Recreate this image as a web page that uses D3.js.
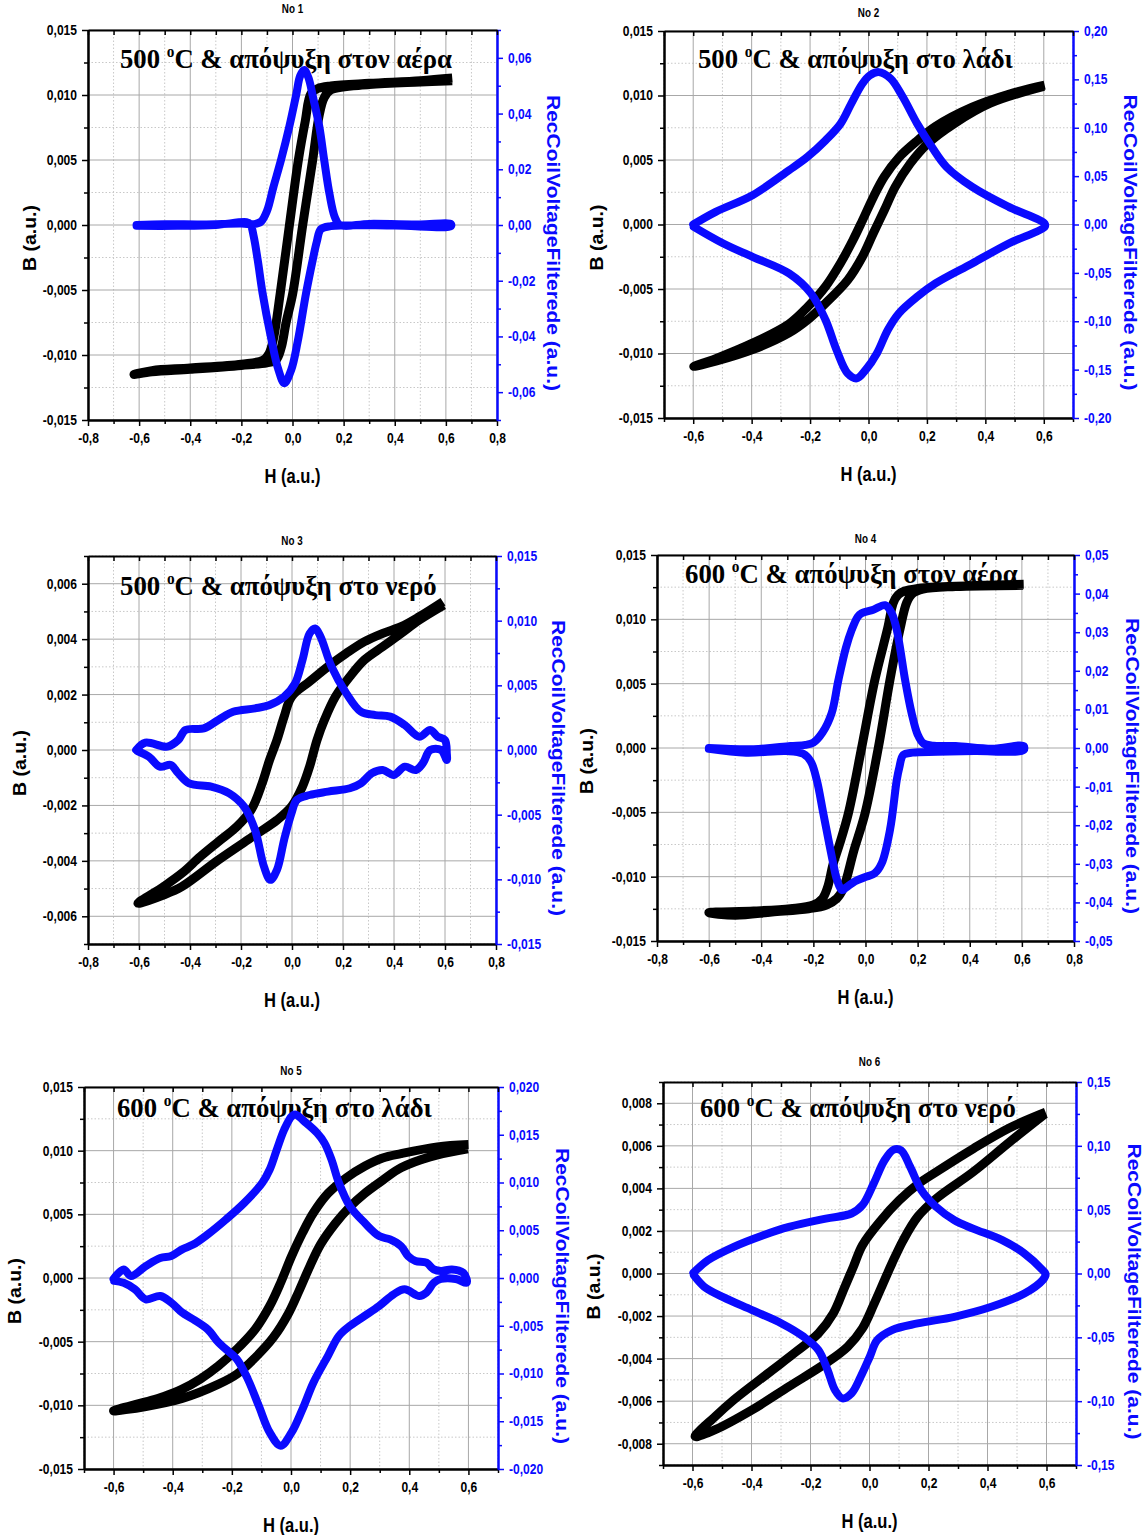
<!DOCTYPE html>
<html>
<head>
<meta charset="utf-8">
<title>Hysteresis loops No 1 - No 6</title>
<script src="https://d3js.org/d3.v7.min.js"></script>
<style>
  body { margin: 0; background: #fff; }
  svg text { font-family: "Liberation Sans", Arial, sans-serif; font-weight: bold; }
</style>
</head>
<body>
<script>
// ---- data: [H, value] ----
const panelTitles = ["No 1", "No 2", "No 3", "No 4", "No 5", "No 6"];
const temps = ["500", "500", "500", "600", "600", "600"];
const quench = ["στον αέρα", "στο λάδι", "στο νερό", "στον αέρα", "στο λάδι", "στο νερό"];

const hDomains = [[-0.8, 0.8], [-0.7, 0.7], [-0.8, 0.8], [-0.8, 0.8], [-0.7, 0.7], [-0.7, 0.7]];
const bDomains = [[-0.015, 0.015], [-0.015, 0.015], [-0.007, 0.007], [-0.015, 0.015], [-0.015, 0.015], [-0.009, 0.009]];
const vDomains = [[-0.07, 0.07], [-0.2, 0.2], [-0.015, 0.015], [-0.05, 0.05], [-0.02, 0.02], [-0.15, 0.15]];
const bSteps = [0.005, 0.005, 0.002, 0.005, 0.005, 0.002];
const vSteps = [0.02, 0.05, 0.005, 0.01, 0.005, 0.05];
const vDecimals = [2, 2, 3, 2, 3, 2];

// black B-H loops (descending branch, then ascending branch)
const bLoop1 = [[0.625,0.0113],[0.5,0.0111],[0.3,0.0109],[0.15,0.0107],[0.099,0.0105],[0.072,0.0101],[0.05,0.0080],[0.023,0.0050],[-0.012,0],[-0.048,-0.00526],[-0.075,-0.0088],[-0.092,-0.0099],[-0.115,-0.0104],[-0.2,-0.0107],[-0.4,-0.0110],[-0.55,-0.0112],[-0.62,-0.0115],
  [-0.55,-0.0113],[-0.4,-0.0111],[-0.2,-0.0108],[-0.1,-0.0106],[-0.065,-0.0104],[-0.045,-0.0095],[-0.025,-0.0075],[0.001,-0.00526],[0.04,0],[0.079,0.0050],[0.105,0.0085],[0.124,0.0098],[0.15,0.0104],[0.3,0.0108],[0.5,0.0110],[0.625,0.0111]];
const bLoop2 = [[0.603,0.0108],[0.48,0.0101],[0.355,0.0091],[0.229,0.0076],[0.167,0.0065],[0.104,0.0052],[0.054,0.0037],[0.016,0.0021],[-0.021,0.0003],[-0.053,-0.0012],[-0.096,-0.003],[-0.147,-0.0048],[-0.209,-0.0064],[-0.272,-0.0077],[-0.397,-0.0092],[-0.523,-0.0104],[-0.598,-0.0110],
  [-0.523,-0.0106],[-0.397,-0.0097],[-0.272,-0.0084],[-0.209,-0.0074],[-0.147,-0.0061],[-0.071,-0.0043],[-0.021,-0.0025],[0.016,-0.0007],[0.054,0.0011],[0.091,0.0029],[0.142,0.0047],[0.204,0.0063],[0.292,0.0078],[0.417,0.0094],[0.6,0.0107]];
const bLoop3 = [[0.592,0.00535],[0.499,0.00481],[0.428,0.00445],[0.356,0.00421],[0.284,0.00391],[0.213,0.00349],[0.141,0.00301],[0.069,0.00247],[-0.002,0.00192],[-0.031,0.0012],[-0.059,0.00036],[-0.088,-0.00036],[-0.117,-0.0012],[-0.16,-0.00216],[-0.217,-0.00277],[-0.289,-0.00331],[-0.36,-0.00385],[-0.432,-0.00445],[-0.504,-0.00493],[-0.604,-0.00553],
  [-0.504,-0.00523],[-0.432,-0.00493],[-0.289,-0.00397],[-0.145,-0.00307],[-0.059,-0.00253],[-0.002,-0.00204],[0.041,-0.00132],[0.069,-0.0006],[0.098,0.00036],[0.127,0.00108],[0.17,0.00192],[0.227,0.00265],[0.284,0.00325],[0.356,0.00373],[0.428,0.00421],[0.499,0.00469],[0.595,0.00523]];
const bLoop4 = [[0.607,0.01272],[0.417,0.01262],[0.276,0.01252],[0.2,0.0124],[0.15,0.0122],[0.125,0.0119],[0.107,0.0113],[0.085,0.0093],[0.036,0.0053],[-0.015,0],[-0.066,-0.0051],[-0.1,-0.0075],[-0.124,-0.0090],[-0.145,-0.0108],[-0.165,-0.0117],[-0.2,-0.0122],[-0.288,-0.01249],[-0.429,-0.01267],[-0.601,-0.0128],
  [-0.5,-0.0130],[-0.359,-0.01275],[-0.218,-0.01249],[-0.15,-0.0122],[-0.11,-0.0117],[-0.085,-0.0109],[-0.045,-0.0080],[-0.002,-0.0051],[0.049,0],[0.094,0.0053],[0.132,0.0092],[0.158,0.0113],[0.18,0.0120],[0.22,0.01235],[0.346,0.01255],[0.605,0.01264]];
const bLoop5 = [[0.6,0.01048],[0.495,0.0103],[0.372,0.00977],[0.31,0.00943],[0.249,0.00878],[0.187,0.00787],[0.125,0.00664],[0.076,0.00512],[0.039,0.00355],[0.002,0.00172],[-0.035,-0.00037],[-0.072,-0.0022],[-0.121,-0.00402],[-0.183,-0.00559],[-0.245,-0.0069],[-0.307,-0.00794],[-0.368,-0.00873],[-0.43,-0.0093],[-0.491,-0.00972],[-0.6,-0.01043],
  [-0.491,-0.01009],[-0.368,-0.00946],[-0.245,-0.00834],[-0.183,-0.00755],[-0.121,-0.00625],[-0.06,-0.00468],[-0.01,-0.00285],[0.027,-0.00102],[0.064,0.00094],[0.1,0.00264],[0.15,0.00429],[0.199,0.00559],[0.249,0.00664],[0.31,0.00768],[0.372,0.00865],[0.47,0.00951],[0.598,0.01014]];
const bLoop6 = [[0.597,0.00758],[0.474,0.00684],[0.351,0.00586],[0.226,0.00477],[0.163,0.00419],[0.101,0.00344],[0.039,0.0025],[-0.024,0.00133],[-0.055,0.00031],[-0.086,-0.0007],[-0.123,-0.00188],[-0.173,-0.00281],[-0.248,-0.00367],[-0.336,-0.00461],[-0.46,-0.00594],[-0.523,-0.00672],[-0.591,-0.00766],
  [-0.523,-0.00734],[-0.398,-0.00641],[-0.273,-0.00531],[-0.148,-0.00422],[-0.074,-0.00344],[-0.024,-0.00258],[0.014,-0.00148],[0.051,-0.00031],[0.076,0.00047],[0.114,0.00156],[0.163,0.00266],[0.226,0.00352],[0.351,0.00477],[0.474,0.00617],[0.595,0.0075]];

// blue RecCoilVoltageFilterede curves (upper branch left->right, lower branch right->left)
const vLoop1 = [[-0.61,0],[-0.5,0.0003],[-0.35,0.0002],[-0.2,0.0005],[-0.15,0.0003],[-0.123,0.0012],[-0.1,0.005],[-0.075,0.0135],[-0.045,0.0233],[-0.0125,0.0353],[0.015,0.047],[0.03,0.0535],[0.046,0.0556],[0.062,0.053],[0.08,0.046],[0.105,0.0353],[0.124,0.0233],[0.145,0.011],[0.165,0.003],[0.185,0],[0.3,0.0004],[0.5,0.0002],[0.62,0.0003],
  [0.62,-0.0004],[0.4,-0.0002],[0.15,-0.0004],[0.111,-0.0015],[0.095,-0.006],[0.079,-0.0126],[0.053,-0.0245],[0.02,-0.042],[-0.005,-0.052],[-0.032,-0.0568],[-0.055,-0.052],[-0.085,-0.04],[-0.117,-0.0245],[-0.136,-0.0126],[-0.152,-0.004],[-0.165,0.0003],[-0.18,0.001],[-0.3,0],[-0.45,-0.0003],[-0.61,-0.0003]];
const vLoop2 = [[-0.6,0],[-0.523,0.0131],[-0.397,0.0303],[-0.272,0.056],[-0.209,0.0698],[-0.147,0.087],[-0.096,0.104],[-0.059,0.125],[-0.021,0.1455],[0.004,0.154],[0.035,0.1575],[0.075,0.151],[0.117,0.132],[0.167,0.104],[0.217,0.080],[0.267,0.0595],[0.355,0.0389],[0.48,0.0182],[0.603,0.001],
  [0.603,-0.0024],[0.48,-0.0196],[0.355,-0.0402],[0.229,-0.0609],[0.167,-0.0746],[0.104,-0.0918],[0.066,-0.109],[0.029,-0.133],[-0.009,-0.150],[-0.04,-0.159],[-0.071,-0.154],[-0.109,-0.13],[-0.147,-0.0987],[-0.197,-0.0712],[-0.272,-0.0506],[-0.397,-0.0334],[-0.497,-0.0196],[-0.598,-0.0024]];
const vLoop3 = [[-0.611,0],[-0.575,0.00057],[-0.489,0.00026],[-0.446,0.00077],[-0.418,0.00155],[-0.346,0.00167],[-0.289,0.00232],[-0.231,0.00296],[-0.145,0.00322],[-0.088,0.00348],[-0.031,0.00412],[0.012,0.00515],[0.041,0.00695],[0.069,0.00901],[0.091,0.0094],[0.112,0.00876],[0.155,0.00644],[0.213,0.00438],[0.27,0.00296],[0.327,0.0027],[0.385,0.00258],[0.442,0.00193],[0.499,0.00103],[0.542,0.00155],[0.571,0.00103],[0.6,0.00077],[0.607,-0.00026],
  [0.607,-0.00077],[0.585,0],[0.542,0],[0.513,-0.00103],[0.485,-0.00155],[0.442,-0.00129],[0.399,-0.00193],[0.356,-0.00155],[0.313,-0.0018],[0.27,-0.00258],[0.227,-0.00296],[0.141,-0.00322],[0.069,-0.00348],[0.019,-0.00386],[-0.002,-0.00489],[-0.031,-0.00695],[-0.059,-0.00927],[-0.085,-0.01004],[-0.11,-0.00901],[-0.145,-0.00618],[-0.188,-0.00438],[-0.246,-0.00335],[-0.317,-0.00283],[-0.403,-0.00258],[-0.446,-0.0018],[-0.475,-0.00116],[-0.518,-0.00129],[-0.561,-0.00052],[-0.605,-0.0001]];
const vLoop4 = [[-0.601,0],[-0.429,-0.0003],[-0.288,0.0005],[-0.23,0.0008],[-0.2,0.0014],[-0.165,0.004],[-0.13,0.009],[-0.104,0.0176],[-0.075,0.026],[-0.053,0.0306],[-0.03,0.034],[-0.015,0.0349],[0.03,0.0358],[0.075,0.037],[0.1,0.035],[0.12,0.0306],[0.152,0.0176],[0.177,0.009],[0.2,0.0035],[0.222,0.0012],[0.26,0.0006],[0.346,0.0005],[0.487,-0.0002],[0.607,0.0005],
  [0.607,-0.0005],[0.417,-0.0008],[0.276,-0.001],[0.18,-0.0012],[0.145,-0.0018],[0.13,-0.005],[0.12,-0.0083],[0.094,-0.0212],[0.062,-0.0299],[0.035,-0.0325],[0.005,-0.0333],[-0.04,-0.0345],[-0.075,-0.0362],[-0.091,-0.0368],[-0.11,-0.034],[-0.124,-0.0299],[-0.162,-0.0169],[-0.187,-0.0083],[-0.21,-0.0035],[-0.239,-0.0015],[-0.3,-0.0008],[-0.458,-0.0012],[-0.601,-0.0002]];
const vLoop5 = [[-0.6,-0.0001],[-0.566,0.0009],[-0.541,0.0002],[-0.491,0.00125],[-0.442,0.0021],[-0.405,0.0023],[-0.368,0.003],[-0.331,0.0035],[-0.282,0.00456],[-0.22,0.00613],[-0.158,0.00787],[-0.097,0.00997],[-0.072,0.01136],[-0.048,0.01345],[-0.023,0.01554],[0.002,0.01693],[0.014,0.01711],[0.051,0.01624],[0.088,0.01519],[0.113,0.01415],[0.137,0.0124],[0.162,0.00997],[0.199,0.00753],[0.249,0.00578],[0.298,0.00439],[0.335,0.00404],[0.372,0.00334],[0.396,0.0023],[0.421,0.00178],[0.458,0.0016],[0.483,0.0009],[0.507,0.00073],[0.544,0.0009],[0.582,0.00056],[0.594,-0.0001],
  [0.594,-0.0005],[0.557,-0.0001],[0.507,-0.0001],[0.483,-0.0005],[0.458,-0.00153],[0.434,-0.00188],[0.384,-0.00118],[0.347,-0.00171],[0.298,-0.00293],[0.249,-0.00397],[0.199,-0.00502],[0.162,-0.00606],[0.125,-0.00815],[0.076,-0.01094],[0.039,-0.01373],[0.002,-0.01617],[-0.035,-0.01756],[-0.072,-0.01617],[-0.109,-0.01338],[-0.146,-0.01059],[-0.183,-0.0085],[-0.22,-0.00746],[-0.245,-0.00676],[-0.282,-0.00537],[-0.331,-0.00432],[-0.368,-0.00362],[-0.405,-0.00258],[-0.442,-0.00188],[-0.491,-0.00223],[-0.528,-0.00118],[-0.566,-0.0005],[-0.598,-0.0003]];
const vLoop6 = [[-0.597,0.0005],[-0.548,0.0104],[-0.46,0.0209],[-0.36,0.03],[-0.273,0.0365],[-0.148,0.043],[-0.061,0.047],[-0.024,0.0535],[0.014,0.0704],[0.051,0.0887],[0.082,0.097],[0.107,0.0965],[0.138,0.0835],[0.176,0.0652],[0.226,0.0522],[0.288,0.0417],[0.351,0.0352],[0.45,0.0261],[0.525,0.0157],[0.587,0.0026],[0.597,-0.0005],
  [0.587,-0.0052],[0.525,-0.0157],[0.413,-0.0261],[0.288,-0.0339],[0.163,-0.0391],[0.076,-0.0443],[0.026,-0.0522],[0.001,-0.0652],[-0.03,-0.0809],[-0.061,-0.0939],[-0.092,-0.0978],[-0.117,-0.0913],[-0.142,-0.0757],[-0.173,-0.06],[-0.223,-0.0496],[-0.298,-0.0391],[-0.398,-0.0287],[-0.498,-0.0183],[-0.56,-0.0104],[-0.595,-0.0015]];

const bLoops = [bLoop1, bLoop2, bLoop3, bLoop4, bLoop5, bLoop6];
const vLoops = [vLoop1, vLoop2, vLoop3, vLoop4, vLoop5, vLoop6];

// ---- layout (pixels) ----
const boxes = [
  { l: 88,  r: 497,  t: 30,   b: 420,  bx: 30,  rx: 553,  ty: 13,   ax: 120, ay: 68,   aw: 332 },
  { l: 664, r: 1073, t: 31,   b: 418,  bx: 597, rx: 1130, ty: 17,   ax: 698, ay: 68,   aw: 315 },
  { l: 88,  r: 496,  t: 556,  b: 944,  bx: 20,  rx: 558,  ty: 545,  ax: 120, ay: 595,  aw: 317 },
  { l: 657, r: 1074, t: 555,  b: 941,  bx: 587, rx: 1132, ty: 543,  ax: 685, ay: 583,  aw: 333 },
  { l: 84,  r: 498,  t: 1087, b: 1469, bx: 15,  rx: 562,  ty: 1075, ax: 117, ay: 1117, aw: 315 },
  { l: 663, r: 1076, t: 1082, b: 1465, bx: 594, rx: 1134, ty: 1066, ax: 700, ay: 1117, aw: 316 }
];

const width = 1144, height = 1535;
const blue = "#0a0aff";

const svg = d3.select("body").append("svg")
  .attr("width", width)
  .attr("height", height)
  .style("display", "block");
svg.append("rect").attr("width", width).attr("height", height).attr("fill", "#fff");

const locale = d3.formatLocale({ decimal: ",", thousands: ".", grouping: [3], currency: ["", ""], minus: "-" });

// tick values k*step inside a domain
function stepTicks(dom, step) {
  let k0 = Math.ceil(dom[0] / step - 1e-6), k1 = Math.floor(dom[1] / step + 1e-6);
  return d3.range(k0, k1 + 1).map(k => +(k * step).toFixed(6));
}
function minorTicks(dom, step) {
  let major = stepTicks(dom, step).map(v => v.toFixed(6));
  return stepTicks(dom, step / 2).filter(v => !major.includes(v.toFixed(6)));
}
// the picture is a bit squeezed sideways: narrow the horizontal texts
function squeeze(sel, f) {
  sel.each(function() {
    let w = this.getComputedTextLength();
    d3.select(this).attr("textLength", w * f).attr("lengthAdjust", "spacingAndGlyphs");
  });
}

function drawPanel(i) {
  let bx = boxes[i];
  let g = svg.append("g");

  let x = d3.scaleLinear().domain(hDomains[i]).range([bx.l, bx.r]);
  let y = d3.scaleLinear().domain(bDomains[i]).range([bx.b, bx.t]);
  let y2 = d3.scaleLinear().domain(vDomains[i]).range([bx.b, bx.t]);

  let xMajor = stepTicks(hDomains[i], 0.2), xMinor = minorTicks(hDomains[i], 0.2);
  let yMajor = stepTicks(bDomains[i], bSteps[i]), yMinor = minorTicks(bDomains[i], bSteps[i]);
  let vMajor = stepTicks(vDomains[i], vSteps[i]), vMinor = minorTicks(vDomains[i], vSteps[i]);

  // grid
  let grid = g.append("g");
  grid.selectAll(".gxm").data(xMinor).enter().append("line")
    .attr("x1", d => x(d)).attr("x2", d => x(d)).attr("y1", bx.t).attr("y2", bx.b)
    .attr("stroke", "#c8c8c8").attr("stroke-dasharray", "1.5,2");
  grid.selectAll(".gym").data(yMinor).enter().append("line")
    .attr("x1", bx.l).attr("x2", bx.r).attr("y1", d => y(d)).attr("y2", d => y(d))
    .attr("stroke", "#c8c8c8").attr("stroke-dasharray", "1.5,2");
  grid.selectAll(".gx").data(xMajor).enter().append("line")
    .attr("x1", d => x(d)).attr("x2", d => x(d)).attr("y1", bx.t).attr("y2", bx.b)
    .attr("stroke", "#a8a8a8");
  grid.selectAll(".gy").data(yMajor).enter().append("line")
    .attr("x1", bx.l).attr("x2", bx.r).attr("y1", d => y(d)).attr("y2", d => y(d))
    .attr("stroke", "#a8a8a8");

  // annotation (under the curves)
  let t = g.append("text").attr("x", bx.ax).attr("y", bx.ay)
    .style("font-family", "'Liberation Serif', 'Times New Roman', serif").style("font-size", "28px");
  t.append("tspan").text(temps[i] + " ");
  t.append("tspan").attr("dy", -11).style("font-size", "16px").text("o");
  t.append("tspan").attr("dy", 11).text("C & απόψυξη " + quench[i]);
  let tw = t.node().getComputedTextLength();
  t.attr("x", 0).attr("y", 0)
    .attr("transform", `translate(${bx.ax},${bx.ay}) scale(${bx.aw / tw},1)`);

  // curves
  let line = d3.line().x(d => x(d[0])).y(d => y(d[1])).curve(d3.curveCatmullRom.alpha(0.5));
  let line2 = d3.line().x(d => x(d[0])).y(d => y2(d[1])).curve(d3.curveCatmullRom.alpha(0.5));
  g.append("path").attr("d", line(bLoops[i]))
    .attr("fill", "none").attr("stroke", "#000").attr("stroke-width", 9)
    .attr("stroke-linejoin", "round").attr("stroke-linecap", "butt");
  g.append("path").attr("d", line2(vLoops[i]))
    .attr("fill", "none").attr("stroke", blue).attr("stroke-width", 8)
    .attr("stroke-linejoin", "round").attr("stroke-linecap", "round");

  // axes
  let fx = locale.format(".1f"), fy = locale.format(".3f"), fv = locale.format("." + vDecimals[i] + "f");
  g.append("g").attr("transform", `translate(0,${bx.b})`)
    .call(d3.axisBottom(x).tickValues(xMajor).tickFormat(fx).tickSize(6).tickSizeOuter(0).tickPadding(7));
  g.append("g").attr("transform", `translate(0,${bx.b})`)
    .call(d3.axisBottom(x).tickValues(xMinor).tickFormat("").tickSize(4).tickSizeOuter(0));
  g.append("g").attr("transform", `translate(${bx.l},0)`)
    .call(d3.axisLeft(y).tickValues(yMajor).tickFormat(fy).tickSize(6).tickSizeOuter(0).tickPadding(5));
  g.append("g").attr("transform", `translate(${bx.l},0)`)
    .call(d3.axisLeft(y).tickValues(yMinor).tickFormat("").tickSize(4).tickSizeOuter(0));
  let gvA = g.append("g").attr("transform", `translate(${bx.r},0)`)
    .call(d3.axisRight(y2).tickValues(vMajor).tickFormat(fv).tickSize(6).tickSizeOuter(0).tickPadding(5));
  let gvm = g.append("g").attr("transform", `translate(${bx.r},0)`)
    .call(d3.axisRight(y2).tickValues(vMinor).tickFormat("").tickSize(4).tickSizeOuter(0));
  // top frame with inward ticks
  g.append("g").attr("transform", `translate(0,${bx.t})`)
    .call(d3.axisTop(x).tickValues(xMajor.concat(xMinor)).tickFormat("").tickSize(-5).tickSizeOuter(0));

  g.selectAll(".domain").attr("stroke-width", 2);
  g.selectAll(".tick line").attr("stroke-width", 1.5);
  [gvA, gvm].forEach(a => {
    a.select(".domain").attr("stroke", blue);
    a.selectAll(".tick line").attr("stroke", blue);
    a.selectAll("text").attr("fill", blue);
  });
  let tickTexts = g.selectAll(".tick text").style("font-size", "14px");
  squeeze(tickTexts, 0.86);

  // labels
  let title = g.append("text").attr("x", (bx.l + bx.r) / 2).attr("y", bx.ty).attr("text-anchor", "middle")
    .style("font-size", "12px").text(panelTitles[i]);
  squeeze(title, 0.82);
  let hl = g.append("text").attr("x", (bx.l + bx.r) / 2).attr("y", bx.b + 63).attr("text-anchor", "middle")
    .style("font-size", "21px").text("H (a.u.)");
  hl.attr("textLength", 56).attr("lengthAdjust", "spacingAndGlyphs");
  let mid = (bx.t + bx.b) / 2;
  g.append("text").attr("transform", `translate(${bx.bx},${mid + 13}) rotate(-90)`)
    .attr("text-anchor", "middle").attr("dy", "0.35em")
    .style("font-size", "18px")
    .attr("textLength", 66).attr("lengthAdjust", "spacingAndGlyphs")
    .text("B (a.u.)");
  g.append("text").attr("transform", `translate(${bx.rx},${mid + 18}) rotate(90)`)
    .attr("text-anchor", "middle").attr("dy", "0.35em").attr("fill", blue)
    .style("font-size", "18px")
    .attr("textLength", 296).attr("lengthAdjust", "spacingAndGlyphs")
    .text("RecCoilVoltageFilterede (a.u.)");
}

for (let i = 0; i < 6; i++) drawPanel(i);
</script>
</body>
</html>
